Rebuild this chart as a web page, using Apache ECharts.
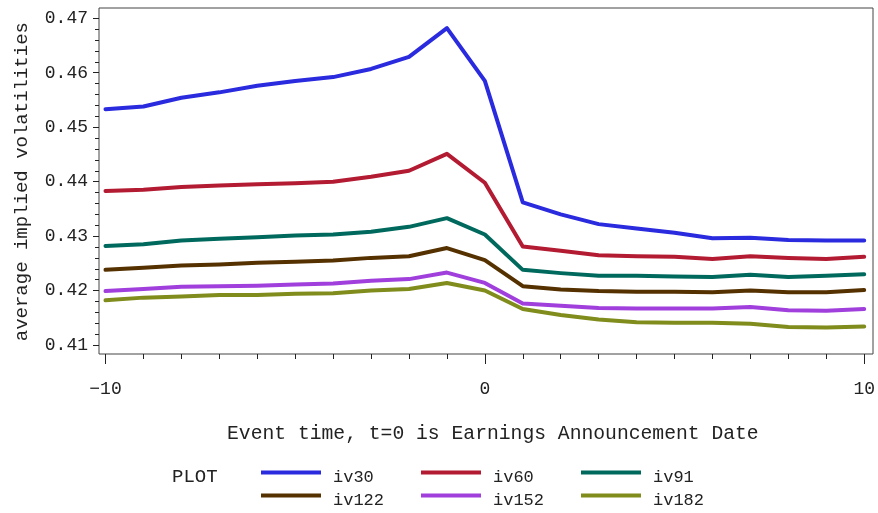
<!DOCTYPE html>
<html>
<head>
<meta charset="utf-8">
<script src="https://cdn.jsdelivr.net/npm/echarts@6/dist/echarts.min.js"></script>
<style>html,body{margin:0;padding:0;background:#fff}#c{width:878px;height:513px}</style>
</head>
<body>
<div id="c"></div>
<script>
var eventTime = [-10,-9,-8,-7,-6,-5,-4,-3,-2,-1,0,1,2,3,4,5,6,7,8,9,10];
var iv30  = [0.4533,0.4538,0.4554,0.4564,0.4576,0.4585,0.4592,0.4607,0.4629,0.4682,0.4585,0.4362,0.4340,0.4322,0.4314,0.4306,0.4296,0.4297,0.4293,0.4292,0.4292];
var iv60  = [0.4383,0.4385,0.4390,0.4393,0.4395,0.4397,0.4400,0.4409,0.4420,0.4451,0.4398,0.4281,0.4273,0.4265,0.4263,0.4262,0.4258,0.4263,0.4260,0.4258,0.4262];
var iv91  = [0.4282,0.4285,0.4292,0.4295,0.4298,0.4301,0.4303,0.4308,0.4317,0.4333,0.4303,0.4238,0.4232,0.4227,0.4227,0.4226,0.4225,0.4229,0.4225,0.4227,0.4230];
var iv122 = [0.4238,0.4242,0.4246,0.4248,0.4251,0.4253,0.4255,0.4260,0.4263,0.4278,0.4256,0.4208,0.4202,0.4199,0.4198,0.4198,0.4197,0.4200,0.4197,0.4197,0.4201];
var iv152 = [0.4199,0.4203,0.4207,0.4208,0.4209,0.4211,0.4213,0.4218,0.4221,0.4233,0.4214,0.4176,0.4172,0.4168,0.4167,0.4167,0.4167,0.4170,0.4164,0.4163,0.4166];
var iv182 = [0.4182,0.4187,0.4189,0.4192,0.4192,0.4194,0.4195,0.4200,0.4203,0.4214,0.4200,0.4166,0.4155,0.4147,0.4142,0.4141,0.4141,0.4139,0.4133,0.4132,0.4134];
var seriesNames = ['iv30','iv60','iv91','iv122','iv152','iv182'];
var seriesData = [iv30, iv60, iv91, iv122, iv152, iv182];
var colors = ['#2a2ade','#b31b32','#00695e','#553100','#a03fdc','#808c1c'];
var yTicks = {min: 0.41, max: 0.47, interval: 0.01};
var xTicks = {min: -10, max: 10, interval: 10};

var FONT = 'Liberation Mono';
var chart = echarts.init(document.getElementById('c'), null, {renderer: 'canvas'});

function pairs(arr){ return eventTime.map(function(t,i){ return [t, arr[i]]; }); }

var series = seriesNames.map(function(n, i){
  return {
    name: n, type: 'line', xAxisIndex: 1, yAxisIndex: 1,
    data: pairs(seriesData[i]), showSymbol: false, symbol: 'none',
    lineStyle: {color: colors[i], width: 4, cap: 'round', join: 'round'},
    itemStyle: {color: colors[i]}
  };
});

function legendCol(left, names){
  return {
    left: left, top: 459, orient: 'vertical', padding: 0, itemWidth: 60, itemHeight: 4, itemGap: -4,
    icon: 'rect', data: names, selectedMode: false,
    formatter: function(n){ return '{a|' + n + '}'; },
    textStyle: {fontFamily: FONT, fontSize: 17, color: '#222',
      rich: {a: {fontFamily: FONT, fontSize: 17, color: '#222', lineHeight: 15, padding: [10,0,0,7]}}}
  };
}

chart.setOption({
  animation: false,
  color: colors,
  title: {text: 'PLOT', left: 172, top: 467, padding: 0,
          textStyle: {fontFamily: FONT, fontSize: 19, fontWeight: 'normal', color: '#222'}},
  legend: [legendCol(261, ['iv30','iv122']), legendCol(421, ['iv60','iv152']), legendCol(581, ['iv91','iv182'])],
  grid: [
    {left: 99, right: 5, top: 8, bottom: 159, show: true, borderColor: '#444', borderWidth: 1, backgroundColor: 'transparent'},
    {left: 105.5, right: 10.5, top: 18.3, bottom: 168}
  ],
  xAxis: [
    {gridIndex: 0, type: 'value', show: false, min: 0, max: 1},
    {gridIndex: 1, type: 'value', min: xTicks.min, max: xTicks.max, interval: xTicks.interval, offset: 9,
     axisLine: {show: false, onZero: false},
     axisTick: {show: true, length: 10, lineStyle: {color: '#222', width: 1}},
     minorTick: {show: true, splitNumber: 10, length: 5, lineStyle: {color: '#222', width: 1}},
     splitLine: {show: false}, minorSplitLine: {show: false},
     axisLabel: {fontFamily: FONT, fontSize: 18, color: '#222', margin: 26,
                 formatter: function(v){ return v < 0 ? '\u2212' + Math.abs(v) : String(v); }},
     name: 'Event time, t=0 is Earnings Announcement Date', nameLocation: 'middle', nameGap: 70,
     nameTextStyle: {fontFamily: FONT, fontSize: 19.7, color: '#222', padding: [0,0,0,16]}}
  ],
  yAxis: [
    {gridIndex: 0, type: 'value', show: false, min: 0, max: 1},
    {gridIndex: 1, type: 'value', min: yTicks.min, max: yTicks.max, interval: yTicks.interval, offset: 6.5,
     axisLine: {show: false, onZero: false},
     axisTick: {show: true, length: 6, lineStyle: {color: '#222', width: 1}},
     minorTick: {show: true, splitNumber: 5, length: 4, lineStyle: {color: '#222', width: 1}},
     splitLine: {show: false}, minorSplitLine: {show: false},
     axisLabel: {fontFamily: FONT, fontSize: 18, color: '#222', margin: 11,
                 formatter: function(v){ return v.toFixed(2); }},
     name: 'average implied volatilities', nameLocation: 'middle', nameGap: 68,
     nameTextStyle: {fontFamily: FONT, fontSize: 19, color: '#222'}}
  ],
  series: series
});
</script>
</body>
</html>
